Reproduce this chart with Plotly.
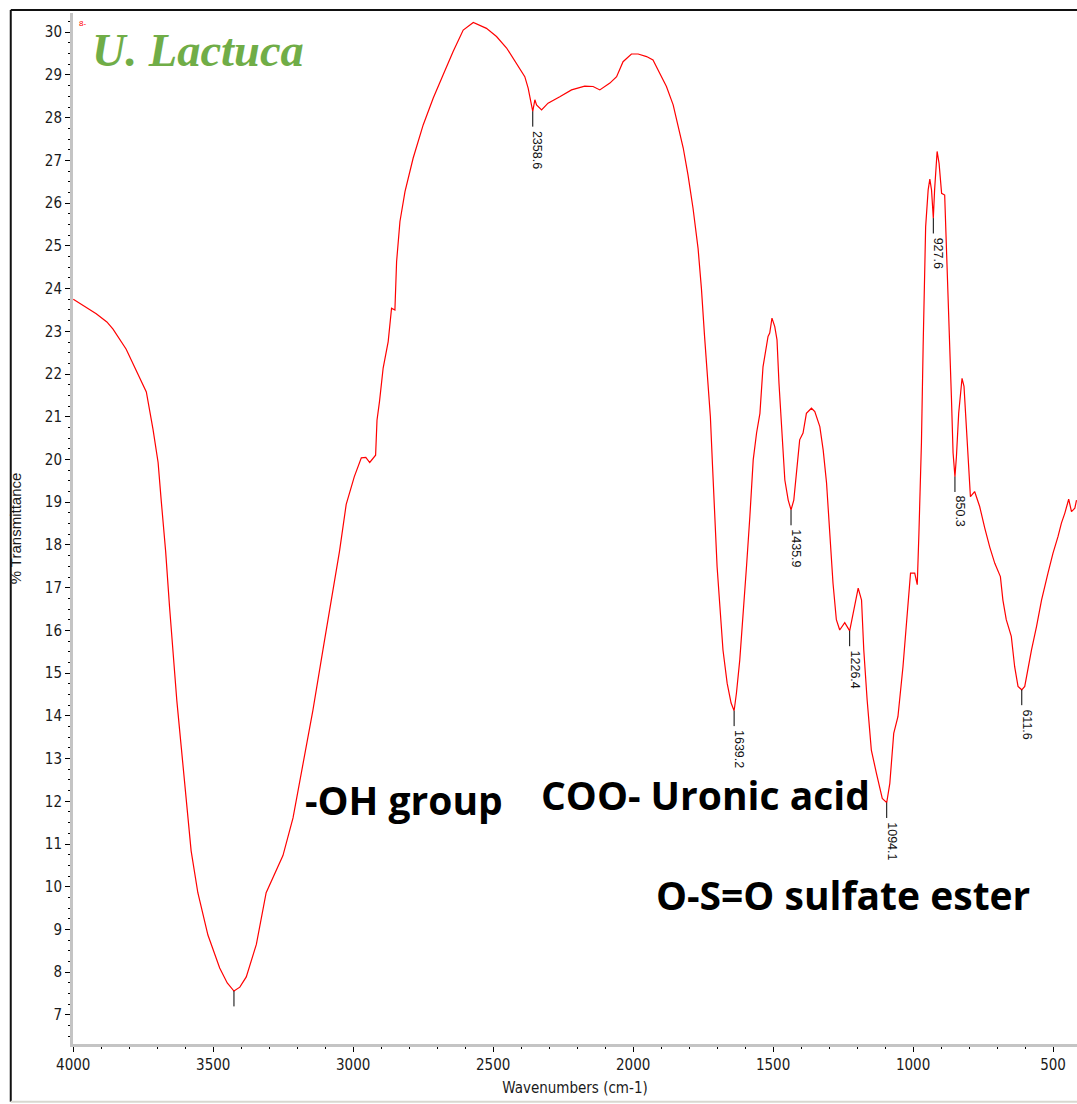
import plotly.graph_objects as go

# FTIR spectrum of U. Lactuca: wavenumber (cm-1) vs % transmittance
wavenumber = [
    4000, 3960, 3918, 3880, 3858, 3811, 3775, 3739, 3715, 3697, 3686, 3670,
    3656, 3644, 3630, 3614, 3596, 3579, 3555, 3519, 3477, 3450, 3426, 3405,
    3382, 3346, 3311, 3275, 3251, 3215, 3180, 3144, 3108, 3073, 3049, 3025,
    2996, 2971, 2955, 2941, 2920, 2915, 2906, 2893, 2875, 2863, 2851, 2845,
    2833, 2815, 2786, 2750, 2714, 2679, 2643, 2607, 2571, 2524, 2488, 2452,
    2416, 2387, 2375, 2365, 2358.6, 2351, 2345, 2327, 2304, 2262, 2220, 2173,
    2143, 2119, 2083, 2059, 2036, 2006, 1982, 1952, 1929, 1905, 1881, 1857,
    1839, 1821, 1804, 1786, 1768, 1756, 1745, 1734, 1724, 1716, 1708, 1700,
    1690, 1679, 1664, 1650, 1639.2, 1631, 1619, 1607, 1595, 1583, 1571, 1559,
    1547, 1536, 1518, 1512, 1504, 1494, 1486, 1479, 1470, 1458, 1446, 1435.9,
    1426, 1416, 1405, 1393, 1381, 1363, 1351, 1333, 1321, 1309, 1297, 1286,
    1274, 1262, 1244, 1226.4, 1214, 1196, 1184, 1176, 1164, 1149, 1131, 1110,
    1094.1, 1083, 1069, 1054, 1036, 1018, 1009, 994, 985, 979, 970, 964,
    958, 955, 946, 940, 934, 927.6, 923, 914, 907, 898, 887, 881,
    875, 869, 863, 857, 850.3, 845, 837, 825, 818, 809, 801, 795,
    780, 762, 744, 726, 708, 688, 679, 667, 649, 637, 625, 611.6,
    601, 589, 577, 559, 541, 518, 500, 482, 470, 458, 444, 434,
    422, 416,
]
transmittance = [
    23.75, 23.58, 23.41, 23.22, 23.05, 22.58, 22.07, 21.58, 20.70, 19.93, 19.05, 17.85,
    16.54, 15.44, 14.35, 13.25, 11.94, 10.84, 9.86, 8.87, 8.10, 7.75, 7.56, 7.65,
    7.89, 8.65, 9.86, 10.40, 10.73, 11.61, 12.81, 14.13, 15.55, 16.98, 17.85, 18.95,
    19.60, 20.04, 20.05, 19.93, 20.10, 20.92, 21.36, 22.14, 22.76, 23.54, 23.50, 24.63,
    25.57, 26.27, 27.05, 27.83, 28.46, 29.00, 29.55, 30.05, 30.23, 30.09, 29.90, 29.63,
    29.27, 28.96, 28.69, 28.35, 28.15, 28.42, 28.30, 28.18, 28.34, 28.49, 28.65, 28.74,
    28.73, 28.65, 28.81, 28.96, 29.31, 29.49, 29.49, 29.43, 29.35, 29.04, 28.73, 28.30,
    27.83, 27.29, 26.66, 25.88, 24.94, 24.00, 22.90, 21.90, 21.00, 19.80, 18.66, 17.49,
    16.56, 15.54, 14.76, 14.30, 14.12, 14.53, 15.31, 16.32, 17.49, 18.66, 19.99, 20.62,
    21.08, 22.17, 22.88, 22.96, 23.31, 23.11, 22.80, 21.79, 20.77, 19.52, 19.05, 18.82,
    19.05, 19.68, 20.46, 20.62, 21.08, 21.20, 21.12, 20.77, 20.22, 19.45, 18.28, 17.11,
    16.25, 16.01, 16.18, 15.99, 16.40, 16.99, 16.71, 15.54, 14.37, 13.20, 12.66, 12.07,
    11.97, 12.42, 13.59, 13.98, 15.15, 16.71, 17.34, 17.34, 17.07, 18.28, 20.40, 22.64,
    24.59, 25.45, 26.31, 26.56, 26.31, 25.65, 26.31, 27.21, 26.93, 26.23, 26.19, 25.14,
    24.05, 22.64, 21.47, 20.15, 19.60, 20.07, 21.08, 21.90, 21.71, 20.69, 19.76, 19.13,
    19.25, 18.90, 18.40, 17.95, 17.57, 17.26, 16.71, 16.25, 15.86, 15.15, 14.69, 14.61,
    14.69, 15.15, 15.54, 16.09, 16.71, 17.34, 17.81, 18.20, 18.51, 18.74, 19.07, 18.78,
    18.86, 19.05,
]

# Picked bands: position, transmittance at the band, and printed label
peak_positions = [3426, 2358.6, 1639.2, 1435.9, 1226.4, 1094.1, 927.6, 850.3, 611.6]
peak_values = [7.56, 28.15, 14.12, 18.82, 15.99, 11.97, 25.65, 19.60, 14.61]
peak_labels = ["", "2358.6", "1639.2", "1435.9", "1226.4", "1094.1", "927.6", "850.3", "611.6"]

# Functional-group notes: text, wavenumber of left edge, transmittance of centre
group_texts = ["-OH group", "COO- Uronic acid", "O-S=O sulfate ester"]
group_x = [3178, 2338, 1924]
group_y = [12.05, 12.17, 9.82]

x_ticks = [4000, 3500, 3000, 2500, 2000, 1500, 1000, 500]
y_ticks = list(range(7, 31))

tick_font = dict(family="Liberation Sans Narrow, Arial Narrow, DejaVu Sans Condensed, sans-serif",
                 size=15, color="#1a1a1a")

fig = go.Figure()
fig.add_trace(go.Scatter(
    x=wavenumber, y=transmittance, mode="lines",
    line=dict(color="#ff0000", width=1.2), hoverinfo="x+y", showlegend=False,
))

tick_len = 0.36
for pos, val, lab in zip(peak_positions, peak_values, peak_labels):
    fig.add_shape(type="line", xref="x", yref="y", x0=pos, x1=pos,
                  y0=val, y1=val - tick_len, line=dict(color="#000000", width=1))
    if lab:
        fig.add_annotation(x=pos, y=val - tick_len, text=lab, showarrow=False,
                           textangle=90, xanchor="center", yanchor="top",
                           xshift=5, yshift=-2,
                           font=dict(family="Liberation Sans, Arial, sans-serif",
                                     size=12.5, color="#111111"))

for txt, gx, gy in zip(group_texts, group_x, group_y):
    fig.add_annotation(x=gx, y=gy, text="<b>" + txt + "</b>", showarrow=False,
                       xanchor="left", yanchor="middle",
                       font=dict(family="Open Sans, Noto Sans, sans-serif",
                                 size=39, color="#000000"))

fig.add_annotation(xref="paper", yref="paper", x=0.017, y=0.964,
                   text="<b><i>U. Lactuca</i></b>", showarrow=False,
                   xanchor="left", yanchor="middle",
                   font=dict(family="Liberation Serif, Times New Roman, serif",
                             size=46.5, color="#70ad47"))

fig.add_annotation(xref="paper", yref="paper", x=0.004, y=0.990,
                   text="8-", showarrow=False, xanchor="left", yanchor="middle",
                   font=dict(family="Liberation Sans, Arial, sans-serif", size=8, color="#ff0000"))

# outer frame of the plot window
frame_left = -0.062
frame_top = 1.003
frame_bottom = -0.056
fig.add_shape(type="line", xref="paper", yref="paper", x0=frame_left, x1=frame_left,
              y0=frame_bottom, y1=frame_top, line=dict(color="#111111", width=2))
fig.add_shape(type="line", xref="paper", yref="paper", x0=frame_left, x1=1.0,
              y0=frame_top, y1=frame_top, line=dict(color="#111111", width=2))
fig.add_shape(type="line", xref="paper", yref="paper", x0=frame_left, x1=1.0,
              y0=frame_bottom, y1=frame_bottom, line=dict(color="#d8d8d0", width=2))

fig.update_layout(
    width=1077, height=1104,
    margin=dict(l=73, r=0, t=13, b=60),
    paper_bgcolor="white", plot_bgcolor="white",
    xaxis=dict(
        range=[4001, 414.3], tickvals=x_ticks, ticktext=[str(v) for v in x_ticks],
        showgrid=False, zeroline=False, showline=True, linecolor="#c4c4c4", linewidth=3,
        ticks="outside", ticklen=5, tickwidth=1, tickcolor="#000000",
        minor=dict(dtick=100, ticks="outside", ticklen=2, tickcolor="#000000", tickwidth=1),
        tickfont=tick_font,
        title=dict(text="Wavenumbers (cm-1)", standoff=10,
                   font=dict(family="Liberation Sans Narrow, Arial Narrow, DejaVu Sans Condensed, sans-serif",
                             size=15, color="#1a1a1a")),
    ),
    yaxis=dict(
        range=[6.32, 30.45], tickvals=y_ticks, ticktext=[str(v) for v in y_ticks],
        showgrid=False, zeroline=False, showline=True, linecolor="#c4c4c4", linewidth=3,
        ticks="outside", ticklen=5, tickwidth=1, tickcolor="#000000",
        minor=dict(dtick=0.25, ticks="outside", ticklen=2, tickcolor="#000000", tickwidth=1),
        tickfont=tick_font,
        title=dict(text="% Transmittance", standoff=20,
                   font=dict(family="Liberation Sans, Arial, sans-serif", size=15, color="#1a1a1a")),
    ),
)

fig.write_html("out.html")
